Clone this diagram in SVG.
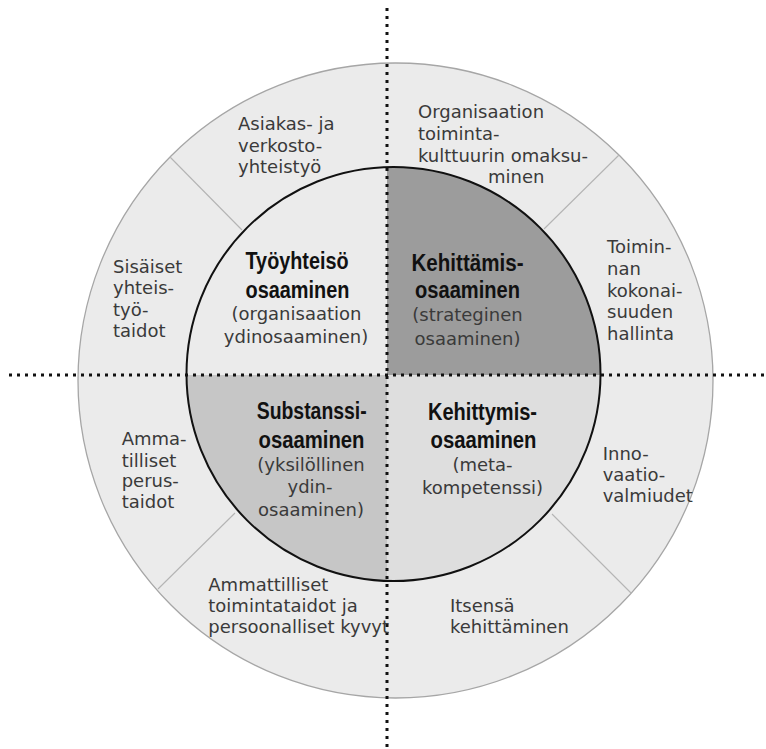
<svg xmlns="http://www.w3.org/2000/svg" width="766" height="749" viewBox="0 0 766 749">
  <style>
    .ring { fill: #ebebeb; stroke: #a6a6a6; stroke-width: 1.3; }
    .divider { stroke: #b4b4b4; stroke-width: 1.1; fill: none; }
    .core-edge { fill: none; stroke: #111; stroke-width: 2; }
    .axis { stroke: #111; stroke-width: 3; stroke-dasharray: 3 5; fill: none; }
    .t { font-family: "DejaVu Sans", "Liberation Sans", sans-serif; font-size: 18px; fill: #3a3a3a; }
    .c { text-anchor: middle; }
    .b { font-family: "Liberation Sans", Arial, sans-serif; font-weight: bold; font-size: 23.5px; fill: #111; text-anchor: middle; }
  </style>
  <defs>
    <clipPath id="core-clip">
      <circle cx="393.5" cy="374" r="207"/>
    </clipPath>
  </defs>

  <rect width="766" height="749" fill="#ffffff"/>

  <!-- outer ring of sub-competences -->
  <circle class="ring" cx="395.5" cy="380.5" r="317.5"/>

  <!-- core quadrants -->
  <g clip-path="url(#core-clip)">
    <rect x="0" y="0" width="387" height="375" fill="#ebebeb"/>
    <rect x="387" y="0" width="379" height="375" fill="#9c9c9c"/>
    <rect x="0" y="375" width="387" height="374" fill="#c6c6c6"/>
    <rect x="387" y="375" width="379" height="374" fill="#dedede"/>
  </g>
  <circle class="core-edge" cx="393.5" cy="374" r="207"/>

  <!-- axes and ring dividers -->
  <g id="connectors">
    <line class="divider" x1="170" y1="157" x2="242" y2="230"/>
    <line class="divider" x1="619" y1="155" x2="544" y2="229"/>
    <line class="divider" x1="158" y1="589" x2="235" y2="513"/>
    <line class="divider" x1="631" y1="593" x2="552" y2="514"/>
    <line class="axis" x1="387" y1="8" x2="387" y2="749"/>
    <line class="axis" x1="9" y1="375" x2="766" y2="375"/>
  </g>

  <!-- core competences -->
  <g id="tyoyhteiso">
    <text class="b" x="297" y="269" textLength="103" lengthAdjust="spacingAndGlyphs">Työyhteisö</text>
    <text class="b" x="297.5" y="298" textLength="104" lengthAdjust="spacingAndGlyphs">osaaminen</text>
    <text class="t c" x="296.5" y="320">(organisaation</text>
    <text class="t c" x="296" y="343">ydinosaaminen)</text>
  </g>
  <g id="kehittamis">
    <text class="b" x="467.5" y="271" textLength="112" lengthAdjust="spacingAndGlyphs">Kehittämis-</text>
    <text class="b" x="467.5" y="298" textLength="105" lengthAdjust="spacingAndGlyphs">osaaminen</text>
    <text class="t c" x="467.5" y="321">(strateginen</text>
    <text class="t c" x="467.5" y="345">osaaminen)</text>
  </g>
  <g id="substanssi">
    <text class="b" x="311.7" y="419" textLength="110" lengthAdjust="spacingAndGlyphs">Substanssi-</text>
    <text class="b" x="311.5" y="448" textLength="106" lengthAdjust="spacingAndGlyphs">osaaminen</text>
    <text class="t c" x="311" y="471">(yksilöllinen</text>
    <text class="t c" x="310" y="493">ydin-</text>
    <text class="t c" x="311" y="516">osaaminen)</text>
  </g>
  <g id="kehittymis">
    <text class="b" x="482.5" y="420" textLength="109" lengthAdjust="spacingAndGlyphs">Kehittymis-</text>
    <text class="b" x="483.5" y="448" textLength="106" lengthAdjust="spacingAndGlyphs">osaaminen</text>
    <text class="t c" x="482.5" y="471">(meta-</text>
    <text class="t c" x="482.5" y="494">kompetenssi)</text>
  </g>

  <!-- ring segments -->
  <g id="asiakas">
    <text class="t" x="238" y="130">Asiakas- ja</text>
    <text class="t" x="238" y="151.7">verkosto-</text>
    <text class="t" x="238" y="173.3">yhteistyö</text>
  </g>
  <g id="organisaatio">
    <text class="t" x="418" y="118.3">Organisaation</text>
    <text class="t" x="418" y="140">toiminta-</text>
    <text class="t" x="418" y="161.7">kulttuurin omaksu-</text>
    <text class="t" x="488" y="183.3">minen</text>
  </g>
  <g id="toiminnan">
    <text class="t" x="607" y="253.3">Toimin-</text>
    <text class="t" x="607" y="275">nan</text>
    <text class="t" x="607" y="296.7">kokonai-</text>
    <text class="t" x="607" y="318.3">suuden</text>
    <text class="t" x="607" y="340">hallinta</text>
  </g>
  <g id="sisaiset">
    <text class="t" x="113" y="272.7">Sisäiset</text>
    <text class="t" x="113" y="294.3">yhteis-</text>
    <text class="t" x="113" y="316">työ-</text>
    <text class="t" x="113" y="336.7">taidot</text>
  </g>
  <g id="ammatilliset">
    <text class="t" x="121.7" y="445">Amma-</text>
    <text class="t" x="121.7" y="466.7">tilliset</text>
    <text class="t" x="121.7" y="487.3">perus-</text>
    <text class="t" x="121.7" y="508.3">taidot</text>
  </g>
  <g id="toimintataidot">
    <text class="t" x="208.3" y="590.7">Ammattilliset</text>
    <text class="t" x="208.3" y="611.7">toimintataidot ja</text>
    <text class="t" x="208.3" y="633.3">persoonalliset kyvyt</text>
  </g>
  <g id="innovaatio">
    <text class="t" x="602.7" y="460">Inno-</text>
    <text class="t" x="602.7" y="481">vaatio-</text>
    <text class="t" x="602.7" y="501.7">valmiudet</text>
  </g>
  <g id="itsensa">
    <text class="t" x="450" y="611.7">Itsensä</text>
    <text class="t" x="450" y="633.3">kehittäminen</text>
  </g>
</svg>
